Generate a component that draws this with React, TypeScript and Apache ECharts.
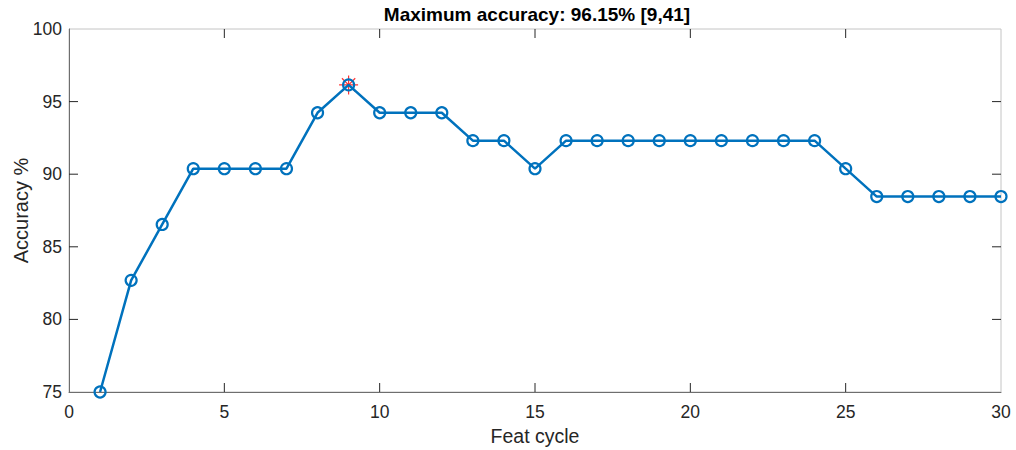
import React, { useEffect, useRef } from "react";
import * as echarts from "echarts";

const featCycles = [1, 2, 3, 4, 5, 6, 7, 8, 9, 10, 11, 12, 13, 14, 15, 16, 17, 18, 19, 20, 21, 22, 23, 24, 25, 26, 27, 28, 29, 30];
const accuracy = [75, 82.69, 86.54, 90.38, 90.38, 90.38, 90.38, 94.23, 96.15, 94.23, 94.23, 94.23, 92.31, 92.31, 90.38, 92.31, 92.31, 92.31, 92.31, 92.31, 92.31, 92.31, 92.31, 92.31, 90.38, 88.46, 88.46, 88.46, 88.46, 88.46];
const bestPoint = [9, 96.15];
const titleText = "Maximum accuracy: 96.15% [9,41]";
const innerXTicks = [5, 10, 15, 20, 25];
const innerYTicks = [80, 85, 90, 95];
const X_MIN = 0;
const X_MAX = 30;
const Y_MIN = 75;
const Y_MAX = 100;

const FONT = "'Liberation Sans', Arial, Helvetica, sans-serif";
const STAR = "path://M0,-10L0,10M-10,0L10,0M-7,-7L7,7M-7,7L7,-7";
const TXT = "#262626";

export default function App() {
  const ref = useRef<HTMLDivElement>(null);
  useEffect(() => {
    if (!ref.current) return;
    document.body.style.margin = "0";
    const chart = echarts.init(ref.current, null, { renderer: "svg" });
    // [x, y, dir] dir 0 = down (top), 1 = left (right side), 2 = right (left side), 3 = up (bottom)
    const boxTicks = [
      ...innerXTicks.map((x) => [x, Y_MAX, 0]),
      ...innerXTicks.map((x) => [x, Y_MIN, 3]),
      ...innerYTicks.map((y) => [X_MAX, y, 1]),
      ...innerYTicks.map((y) => [X_MIN, y, 2]),
    ];
    chart.setOption({
      animation: false,
      backgroundColor: "#ffffff",
      title: {
        text: titleText,
        left: 532,
        top: 0,
        textAlign: "center",
        textStyle: { fontFamily: FONT, fontSize: 19, fontWeight: "bold", color: "#000" },
      },
      grid: {
        left: 69,
        right: 15,
        top: 29,
        bottom: 58,
        containLabel: false,
        outerBoundsMode: "none",
        show: true,
        borderColor: "#c4c4c4",
        borderWidth: 1,
        backgroundColor: "transparent",
      },
      xAxis: {
        type: "value",
        min: X_MIN,
        max: X_MAX,
        interval: 5,
        name: "Feat cycle",
        nameLocation: "middle",
        nameGap: 34,
        nameMoveOverlap: false,
        nameTextStyle: { fontFamily: FONT, fontSize: 19.5, color: TXT },
        axisLine: { show: true, lineStyle: { color: "#6e6e6e", width: 1 } },
        axisTick: { show: false },
        axisLabel: { fontFamily: FONT, fontSize: 17.5, color: TXT, margin: 11 },
        splitLine: { show: false },
      },
      yAxis: {
        type: "value",
        min: Y_MIN,
        max: Y_MAX,
        interval: 5,
        name: "Accuracy %",
        nameLocation: "middle",
        nameGap: 38,
        nameMoveOverlap: false,
        nameTextStyle: { fontFamily: FONT, fontSize: 20, color: TXT },
        axisLine: { show: true, lineStyle: { color: "#6e6e6e", width: 1 } },
        axisTick: { show: false },
        axisLabel: { fontFamily: FONT, fontSize: 17.5, color: TXT, margin: 7 },
        splitLine: { show: false },
      },
      series: [
        {
          type: "custom",
          clip: false,
          silent: true,
          data: boxTicks,
          renderItem: (params: any, api: any) => {
            const p = api.coord([api.value(0), api.value(1)]);
            const dir = api.value(2);
            const q =
              dir === 0 ? [p[0], p[1] + 9] :
              dir === 3 ? [p[0], p[1] - 9] :
              dir === 1 ? [p[0] - 9, p[1]] : [p[0] + 9, p[1]];
            return {
              type: "line",
              shape: { x1: p[0], y1: p[1], x2: q[0], y2: q[1] },
              style: { stroke: TXT, lineWidth: 1 },
            };
          },
          z: 1,
        },
        {
          type: "scatter",
          data: [bestPoint],
          symbol: STAR,
          symbolSize: 19,
          itemStyle: { color: "none", borderColor: "#ff0000", borderWidth: 1.2 },
          z: 1,
        },
        {
          type: "line",
          data: featCycles.map((x, i) => [x, accuracy[i]]),
          symbol: "circle",
          symbolSize: 11,
          showAllSymbol: true,
          lineStyle: { color: "#0072BD", width: 2.5 },
          itemStyle: { color: "rgba(0,0,0,0)", borderColor: "#0072BD", borderWidth: 2.2 },
          z: 2,
        },
      ],
    });
    return () => chart.dispose();
  }, []);
  return <div ref={ref} style={{ width: 1016, height: 450 }} />;
}
